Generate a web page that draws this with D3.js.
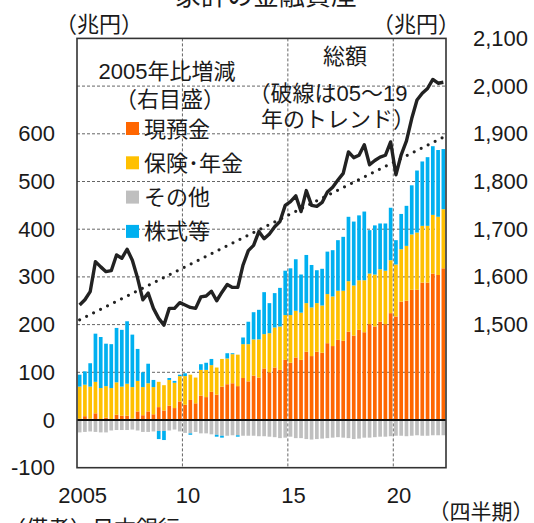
<!DOCTYPE html>
<html>
<head>
<meta charset="utf-8">
<style>
  body { margin: 0; background: #fff; }
  svg text { font-family: "Liberation Sans", Arial, "Noto Sans CJK JP", sans-serif; fill: #1a1a1a; }
  .grid { stroke: #555; stroke-width: 0.9; stroke-dasharray: 3,2; fill: none; }
</style>
</head>
<body>
<svg width="534" height="523"></svg>
<script src="https://cdn.jsdelivr.net/npm/d3@7"></script>
<script>
// quarters 2005Q1 - 2022Q2
var quarters = [
  "05Q1","05Q2","05Q3","05Q4","06Q1","06Q2","06Q3","06Q4","07Q1","07Q2","07Q3","07Q4",
  "08Q1","08Q2","08Q3","08Q4","09Q1","09Q2","09Q3","09Q4","10Q1","10Q2","10Q3","10Q4",
  "11Q1","11Q2","11Q3","11Q4","12Q1","12Q2","12Q3","12Q4","13Q1","13Q2","13Q3","13Q4",
  "14Q1","14Q2","14Q3","14Q4","15Q1","15Q2","15Q3","15Q4","16Q1","16Q2","16Q3","16Q4",
  "17Q1","17Q2","17Q3","17Q4","18Q1","18Q2","18Q3","18Q4","19Q1","19Q2","19Q3","19Q4",
  "20Q1","20Q2","20Q3","20Q4","21Q1","21Q2","21Q3","21Q4","22Q1","22Q2"
];

// change vs 2005 (left axis, 兆円)
var cash = [3,8,3,14,2,5,1,11,9,9,3,18,10,18,12,27,20,30,25,39,32,42,35,51,48,59,53,70,75,77,71,88,
  81,93,89,108,100,110,105,126,120,131,126,143,134,143,141,161,155,168,166,185,177,189,184,201,196,206,201,224,
  217,248,250,273,273,288,288,307,304,318];
var insurance = [67,66,67,66,65,66,66,68,61,67,66,64,59,59,57,53,53,54,53,53,60,53,54,54,57,56,57,58,54,61,66,71,
  78,76,80,72,82,84,91,94,100,98,99,102,102,102,99,103,104,103,105,106,105,104,109,106,109,110,112,111,
  109,110,115,116,120,119,119,123,122,124];
var other = [-26,-25,-24,-25,-26,-26,-22,-21,-21,-21,-20,-22,-25,-25,-24,-23,-23,-22,-20,-24,-27,-28,-25,-28,-28,-30,-31,-33,-33,-32,-32,-33,
  -33,-33,-34,-34,-35,-36,-38,-37,-35,-38,-38,-40,-41,-40,-39,-38,-37,-36,-37,-38,-40,-39,-37,-37,-36,-35,-35,-34,
  -33,-33,-34,-33,-32,-33,-33,-32,-32,-32];
var equity = [25,28,49,101,107,89,92,114,119,131,110,67,31,41,15,-17,-19,4,4,3,6,-3,0,12,15,13,-4,-4,11,2,-3,14,
  47,57,62,88,63,72,81,93,98,108,80,101,89,69,77,89,97,106,113,135,134,136,144,91,103,96,99,110,
  51,74,84,103,130,135,144,144,140,126];

// total financial assets (right axis, 兆円)
var total = [1541,1552,1569,1632,1621,1611,1613,1646,1639,1658,1635,1597,1552,1566,1534,1513,1499,1534,1534,1546,
  1541,1536,1534,1558,1560,1570,1550,1568,1584,1578,1578,1625,1655,1666,1695,1680,1690,1705,1716,1750,
  1758,1770,1737,1781,1750,1748,1756,1778,1788,1803,1817,1862,1850,1855,1877,1835,1844,1851,1855,1883,
  1814,1856,1885,1932,1971,1985,1995,2014,2006,2008];

// 05-19 trend (dotted), end points
var trend = [{q: "05Q1", v: 1510}, {q: "22Q2", v: 1893}];

var seriesKeys = ["cash", "insurance", "other", "equity"];
var seriesNames = ["現預金", "保険･年金", "その他", "株式等"];
var seriesColors = ["#FF6600", "#FFC000", "#BFBFBF", "#00B0F0"];

var leftTicks = [-100, 0, 100, 200, 300, 400, 500, 600];
var rightTicks = [1500, 1600, 1700, 1800, 1900, 2000, 2100];
var gridValues = [100, 200, 300, 400, 500, 600, 700];
var xTicks = [{q: "05Q1", label: "2005"}, {q: "10Q1", label: "10"}, {q: "15Q1", label: "15"}, {q: "20Q1", label: "20"}];

var rows = quarters.map(function(q, i) {
  return {q: q, cash: cash[i], insurance: insurance[i], other: other[i], equity: equity[i]};
});

var L = 77, R = 446, T = 38.4, B = 467.7;

var x = d3.scaleBand().domain(quarters).range([L, R]).paddingInner(0.3).paddingOuter(0.15);
var yL = d3.scaleLinear().domain([-100, 800]).range([B, T]);
var yR = d3.scaleLinear().domain([1200, 2100]).range([B, T]);
var color = d3.scaleOrdinal().domain(seriesKeys).range(seriesColors);
function cx(q) { return x(q) + x.bandwidth() / 2; }

var svg = d3.select("svg");

// title (cut at top, as in the original)
svg.append("text").attr("x", 266).attr("y", 5).attr("text-anchor", "middle")
  .style("font-size", "26px").text("家計の金融資産");

// unit labels
svg.append("text").attr("x", 99).attr("y", 24).attr("text-anchor", "middle")
  .attr("dominant-baseline", "central").style("font-size", "22px").text("（兆円）");
svg.append("text").attr("x", 416).attr("y", 24).attr("text-anchor", "middle")
  .attr("dominant-baseline", "central").style("font-size", "22px").text("（兆円）");

// grid
svg.append("g").selectAll("line").data(gridValues).enter().append("line")
  .attr("class", "grid")
  .attr("x1", L).attr("x2", R)
  .attr("y1", function(d) { return yL(d); }).attr("y2", function(d) { return yL(d); });
svg.append("g").selectAll("line").data(xTicks.slice(1)).enter().append("line")
  .attr("class", "grid")
  .attr("x1", function(d) { return x(d.q) - x.step() * x.paddingInner() / 2; })
  .attr("x2", function(d) { return x(d.q) - x.step() * x.paddingInner() / 2; })
  .attr("y1", T).attr("y2", B);

// stacked bars
var stacked = d3.stack().keys(seriesKeys).offset(d3.stackOffsetDiverging)(rows);
svg.append("g").selectAll("g").data(stacked).enter().append("g")
  .attr("fill", function(d) { return color(d.key); })
  .selectAll("rect").data(function(d) { return d; }).enter().append("rect")
  .attr("x", function(d) { return x(d.data.q); })
  .attr("width", x.bandwidth())
  .attr("y", function(d) { return yL(Math.max(d[0], d[1])); })
  .attr("height", function(d) { return Math.abs(yL(d[0]) - yL(d[1])); });

// zero line
svg.append("line").attr("x1", L).attr("x2", R).attr("y1", yL(0)).attr("y2", yL(0))
  .attr("stroke", "#111").attr("stroke-width", 2.2);

// trend (dotted)
var tline = d3.line().x(function(d) { return cx(d.q); }).y(function(d) { return yR(d.v); });
svg.append("path").attr("d", tline(trend))
  .attr("fill", "none").attr("stroke", "#222").attr("stroke-width", 3.2)
  .attr("stroke-linecap", "round").attr("stroke-dasharray", "0,7.8");

// total line
var totalData = quarters.map(function(q, i) { return {q: q, v: total[i]}; });
svg.append("path").attr("d", tline(totalData))
  .attr("fill", "none").attr("stroke", "#222").attr("stroke-width", 3.4)
  .attr("stroke-linejoin", "round");

// frame
svg.append("rect").attr("x", L).attr("y", T).attr("width", R - L).attr("height", B - T)
  .attr("fill", "none").attr("stroke", "#333").attr("stroke-width", 1.6);

// axis labels
svg.append("g").selectAll("text").data(leftTicks).enter().append("text")
  .attr("x", 55).attr("y", function(d) { return yL(d); })
  .attr("text-anchor", "end").attr("dominant-baseline", "central")
  .style("font-size", "22px").text(function(d) { return d; });
svg.append("g").selectAll("text").data(rightTicks).enter().append("text")
  .attr("x", 473).attr("y", function(d) { return yR(d); })
  .attr("dominant-baseline", "central")
  .style("font-size", "22px").text(function(d) { return d3.format(",")(d); });
svg.append("g").selectAll("text").data(xTicks).enter().append("text")
  .attr("x", function(d) { return cx(d.q) + 3; }).attr("y", 495)
  .attr("text-anchor", "middle").attr("dominant-baseline", "central")
  .style("font-size", "22px").text(function(d) { return d.label; });
svg.append("text").attr("x", 481).attr("y", 511).attr("text-anchor", "middle")
  .attr("dominant-baseline", "central").style("font-size", "21px").text("（四半期）");

// source note (cut at bottom, as in the original)
svg.append("text").attr("x", 4).attr("y", 536).style("font-size", "22px").text("（備考）日本銀行");

// legend
svg.append("text").attr("x", 167).attr("y", 71).attr("text-anchor", "middle")
  .attr("dominant-baseline", "central").style("font-size", "22px").text("2005年比増減");
svg.append("text").attr("x", 170).attr("y", 99).attr("text-anchor", "middle")
  .attr("dominant-baseline", "central").style("font-size", "22px").text("（右目盛）");
var leg = svg.append("g").selectAll("g").data(seriesKeys).enter().append("g")
  .attr("transform", function(d, i) { return "translate(126," + (122 + i * 34.3) + ")"; });
leg.append("rect").attr("width", 13).attr("height", 13).attr("fill", function(d) { return color(d); });
leg.append("text").attr("x", 18).attr("y", 7).attr("dominant-baseline", "central")
  .style("font-size", "22px")
  .text(function(d, i) { return seriesNames[i]; });

// total annotation
svg.append("text").attr("x", 345).attr("y", 56).attr("text-anchor", "middle")
  .attr("dominant-baseline", "central").style("font-size", "22px").text("総額");
svg.append("text").attr("x", 328).attr("y", 93).attr("text-anchor", "middle")
  .attr("dominant-baseline", "central").style("font-size", "22px").text("（破線は05～19");
svg.append("text").attr("x", 338).attr("y", 119).attr("text-anchor", "middle")
  .attr("dominant-baseline", "central").style("font-size", "22px").text("年のトレンド）");
</script>
</body>
</html>
